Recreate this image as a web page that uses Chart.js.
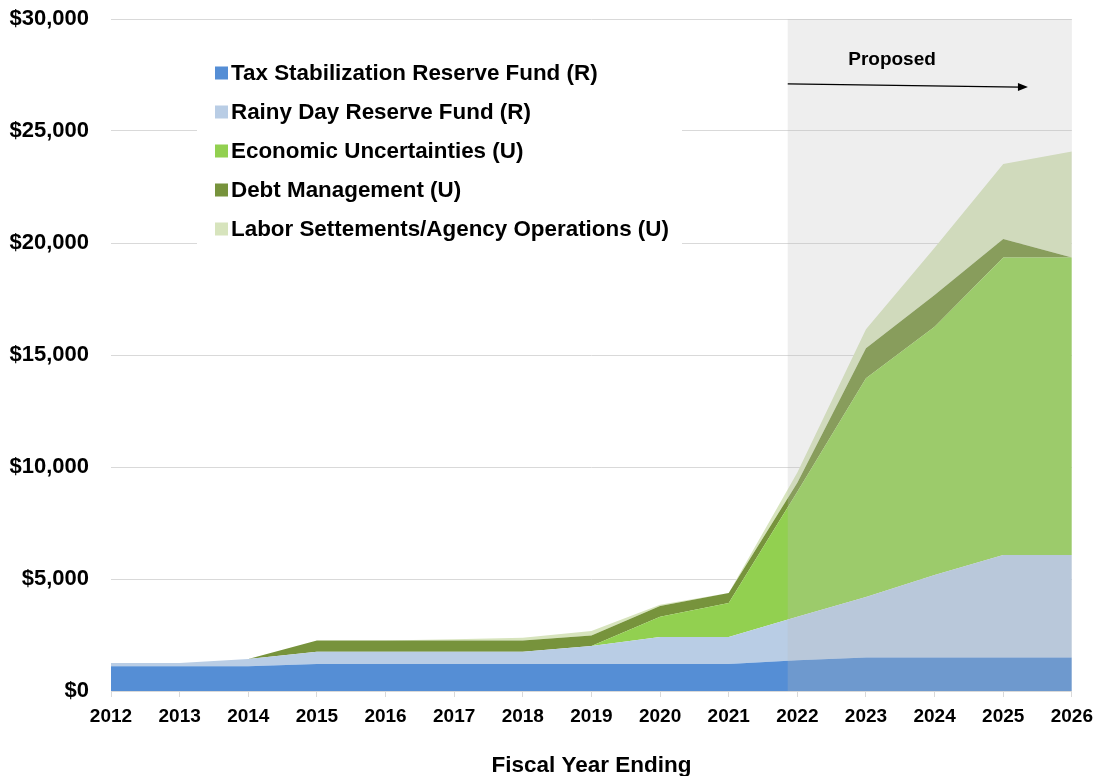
<!DOCTYPE html>
<html>
<head>
<meta charset="utf-8">
<script src="https://cdn.jsdelivr.net/npm/chart.js@4/dist/chart.umd.min.js"></script>
<style>
    html, body { margin: 0; padding: 0; background: #fff; }
    #wrap { width: 1095px; height: 776px; }
</style>
</head>
<body>
<div id="wrap"><canvas id="reserveChart"></canvas></div>
<script>
const years = ['2012', '2013', '2014', '2015', '2016', '2017', '2018', '2019', '2020', '2021', '2022', '2023', '2024', '2025', '2026'];
const taxStabilization = [1100, 1100, 1100, 1200, 1200, 1200, 1200, 1200, 1200, 1200, 1370, 1500, 1500, 1500, 1500];
const rainyDay = [150, 150, 330, 550, 550, 550, 550, 810, 1210, 1210, 1950, 2700, 3680, 4570, 4570];
const economicUncertainties = [0, 0, 0, 0, 0, 0, 0, 0, 900, 1520, 5580, 9760, 11080, 13280, 13280];
const debtManagement = [0, 0, 0, 510, 510, 510, 510, 470, 490, 450, 400, 1340, 1420, 830, 0];
const laborSettlements = [0, 0, 0, 0, 0, 50, 120, 200, 50, 0, 450, 850, 2110, 3350, 4730];
const yTicks = [0, 5000, 10000, 15000, 20000, 25000, 30000];

// proposed period starts a little before the 2022 tick
const proposedStart = 9.86;
const FONT = "'Liberation Sans', Arial, sans-serif";

const proposedPlugin = {
    id: 'proposed',
    afterDatasetsDraw(chart) {
        const { ctx, chartArea, scales } = chart;
        const x0 = scales.x.getPixelForValue(proposedStart);
        ctx.save();
        ctx.fillStyle = 'rgba(189, 189, 189, 0.25)';
        ctx.fillRect(x0, chartArea.top, chartArea.right - x0, chartArea.bottom - chartArea.top);

        ctx.fillStyle = '#000';
        ctx.font = 'bold 19px ' + FONT;
        ctx.textAlign = 'center';
        ctx.textBaseline = 'middle';
        ctx.fillText('Proposed', scales.x.getPixelForValue(11.38), scales.y.getPixelForValue(28200));

        const ax1 = x0, ay1 = scales.y.getPixelForValue(27100);
        const ax2 = scales.x.getPixelForValue(13.36), ay2 = scales.y.getPixelForValue(26960);
        ctx.strokeStyle = '#000';
        ctx.lineWidth = 1.3;
        ctx.beginPath();
        ctx.moveTo(ax1, ay1);
        ctx.lineTo(ax2 - 8, ay2);
        ctx.stroke();
        ctx.beginPath();
        ctx.moveTo(ax2, ay2);
        ctx.lineTo(ax2 - 10, ay2 - 4);
        ctx.lineTo(ax2 - 10, ay2 + 4);
        ctx.closePath();
        ctx.fill();
        ctx.restore();
    },
};

const boxLegendPlugin = {
    id: 'boxLegend',
    afterDraw(chart) {
        const { ctx } = chart;
        ctx.save();
        ctx.fillStyle = '#fff';
        ctx.fillRect(197, 52, 485, 196);
        ctx.font = 'bold 22.4px ' + FONT;
        ctx.textBaseline = 'middle';
        ctx.textAlign = 'left';
        chart.data.datasets.forEach((ds, i) => {
            const y = 73 + i * 39;
            ctx.fillStyle = ds.backgroundColor;
            ctx.fillRect(215, y - 6.5, 13, 13);
            ctx.fillStyle = '#000';
            ctx.fillText(ds.label, 231, y + 1);
        });
        ctx.restore();
    },
};

function area(label, data, color, fill) {
    return {
        label: label,
        data: data,
        backgroundColor: color,
        borderColor: color,
        borderWidth: 0,
        pointRadius: 0,
        tension: 0,
        fill: fill,
    };
}

new Chart(document.getElementById('reserveChart').getContext('2d'), {
    type: 'line',
    data: {
        labels: years,
        datasets: [
            area('Tax Stabilization Reserve Fund (R)', taxStabilization, '#558ed5', 'origin'),
            area('Rainy Day Reserve Fund (R)', rainyDay, '#b9cde5', '-1'),
            area('Economic Uncertainties (U)', economicUncertainties, '#92d050', '-1'),
            area('Debt Management (U)', debtManagement, '#77933c', '-1'),
            area('Labor Settements/Agency Operations (U)', laborSettlements, '#d7e4bd', '-1'),
        ],
    },
    options: {
        responsive: true,
        maintainAspectRatio: false,
        animation: false,
        layout: { padding: { left: 0, right: 0, top: 19, bottom: 0 } },
        plugins: {
            legend: { display: false },
            tooltip: { enabled: false },
        },
        scales: {
            x: {
                offset: false,
                afterFit: (scale) => { scale.height = 85; },
                grid: { drawOnChartArea: false, drawTicks: true, tickLength: 6, color: '#d9d9d9' },
                border: { color: '#d9d9d9' },
                ticks: { color: '#000', font: { family: FONT, size: 19, weight: 'bold', lineHeight: 1.9 }, padding: 2, maxRotation: 0 },
                title: {
                    display: true,
                    text: 'Fiscal Year Ending',
                    color: '#000',
                    font: { family: FONT, size: 22.5, weight: 'bold' },
                    padding: { top: 22, bottom: -3 },
                },
            },
            y: {
                stacked: true,
                min: 0,
                max: 30000,
                afterFit: (scale) => { scale.width = 111; },
                afterBuildTicks: (scale) => { scale.ticks = yTicks.map((v) => ({ value: v })); },
                grid: { color: '#d9d9d9', drawTicks: true, tickLength: 17, tickColor: 'rgba(0,0,0,0)' },
                border: { display: false },
                ticks: {
                    color: '#000',
                    font: { family: FONT, size: 22, weight: 'bold' },
                    padding: 5,
                    callback: (v) => '$' + v.toLocaleString('en-US'),
                },
            },
        },
    },
    plugins: [proposedPlugin, boxLegendPlugin],
});
</script>
</body>
</html>
